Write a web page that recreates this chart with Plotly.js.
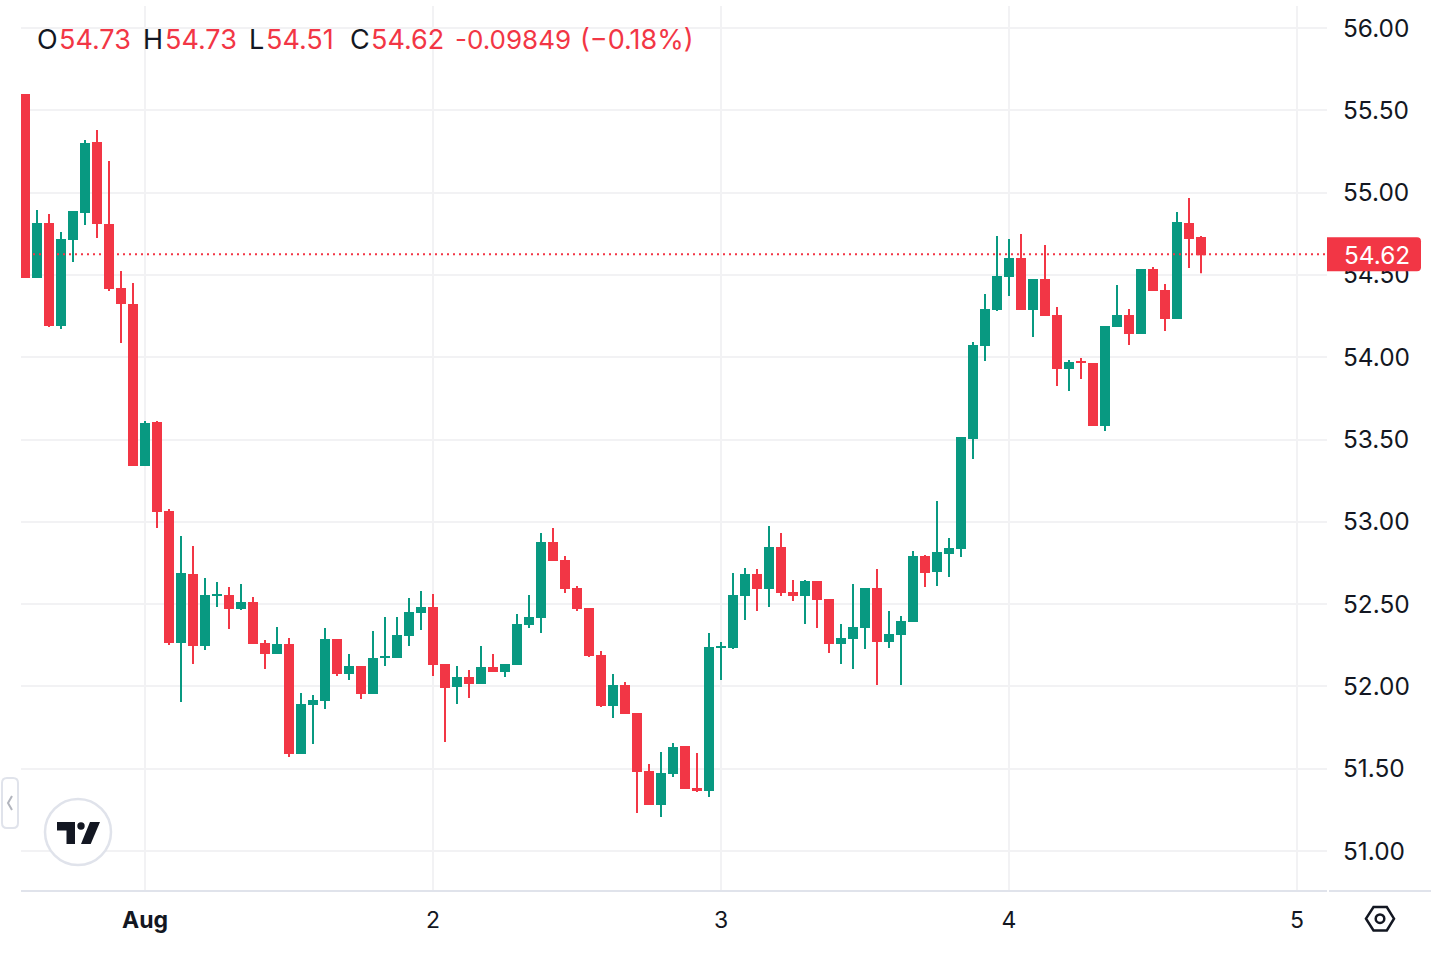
<!DOCTYPE html>
<html>
<head>
<meta charset="utf-8">
<script src="https://cdn.plot.ly/plotly-3.0.1.min.js"></script>
<style>
  html, body { margin: 0; padding: 0; background: #fff; }
  #chart { width: 1446px; height: 954px; }
</style>
</head>
<body>
<div id="chart"></div>
<script>
const openPrices = [
  55.599, 54.481, 54.815, 54.190, 54.712, 54.876, 55.307, 54.809, 54.420, 54.323,
  53.339, 53.606, 53.066, 52.264, 52.683, 52.245, 52.549, 52.555, 52.470, 52.513,
  52.264, 52.197, 52.258, 51.589, 51.887, 51.911, 52.288, 52.075, 52.124, 51.954,
  52.173, 52.173, 52.306, 52.446, 52.482, 52.136, 51.996, 52.057, 52.015, 52.118,
  52.088, 52.130, 52.373, 52.416, 52.877, 52.768, 52.598, 52.476, 52.191, 51.881,
  52.009, 51.838, 51.486, 51.280, 51.468, 51.638, 51.383, 51.365, 52.233, 52.233,
  52.549, 52.683, 52.592, 52.847, 52.574, 52.549, 52.640, 52.531, 52.258, 52.288,
  52.355, 52.598, 52.270, 52.312, 52.391, 52.792, 52.695, 52.804, 52.835, 53.503,
  54.068, 54.287, 54.487, 54.603, 54.287, 54.475, 54.256, 53.928, 53.977, 53.965,
  53.582, 54.183, 54.256, 54.141, 54.536, 54.408, 54.232, 54.815, 54.730
];
const highPrices = [
  55.599, 54.894, 54.870, 54.761, 54.888, 55.320, 55.380, 55.192, 54.524, 54.451,
  53.612, 53.612, 53.078, 52.914, 52.853, 52.659, 52.634, 52.604, 52.622, 52.543,
  52.282, 52.361, 52.294, 51.960, 51.948, 52.355, 52.288, 52.197, 52.124, 52.337,
  52.422, 52.422, 52.537, 52.580, 52.561, 52.136, 52.124, 52.100, 52.245, 52.197,
  52.136, 52.440, 52.555, 52.932, 52.962, 52.792, 52.610, 52.476, 52.215, 52.075,
  52.027, 51.838, 51.529, 51.602, 51.656, 51.638, 51.595, 52.324, 52.270, 52.689,
  52.719, 52.713, 52.975, 52.932, 52.646, 52.646, 52.640, 52.531, 52.379, 52.622,
  52.598, 52.713, 52.458, 52.428, 52.823, 52.798, 53.126, 52.902, 53.515, 54.092,
  54.384, 54.736, 54.718, 54.748, 54.475, 54.682, 54.305, 53.983, 53.995, 53.965,
  54.190, 54.439, 54.293, 54.536, 54.548, 54.445, 54.882, 54.967, 54.736
];
const lowPrices = [
  54.481, 54.481, 54.183, 54.171, 54.578, 54.803, 54.724, 54.402, 54.086, 53.339,
  53.339, 52.962, 52.252, 51.905, 52.136, 52.221, 52.482, 52.349, 52.464, 52.258,
  52.106, 52.197, 51.571, 51.589, 51.650, 51.863, 52.063, 52.039, 51.923, 51.954,
  52.124, 52.173, 52.245, 52.343, 52.063, 51.662, 51.893, 51.930, 52.015, 52.088,
  52.057, 52.130, 52.355, 52.324, 52.762, 52.567, 52.458, 52.179, 51.875, 51.808,
  51.832, 51.231, 51.280, 51.207, 51.450, 51.377, 51.358, 51.328, 52.039, 52.227,
  52.403, 52.458, 52.482, 52.549, 52.519, 52.379, 52.355, 52.203, 52.136, 52.106,
  52.227, 52.009, 52.233, 52.009, 52.391, 52.604, 52.610, 52.665, 52.786, 53.382,
  53.977, 54.281, 54.372, 54.287, 54.123, 54.250, 53.825, 53.795, 53.868, 53.582,
  53.552, 54.183, 54.074, 54.141, 54.402, 54.159, 54.232, 54.542, 54.510
];
const closePrices = [
  54.481, 54.815, 54.190, 54.718, 54.888, 55.301, 54.809, 54.414, 54.323, 53.339,
  53.600, 53.060, 52.264, 52.689, 52.245, 52.555, 52.561, 52.470, 52.513, 52.258,
  52.197, 52.258, 51.589, 51.893, 51.917, 52.288, 52.075, 52.124, 51.954, 52.173,
  52.185, 52.312, 52.452, 52.482, 52.130, 51.990, 52.057, 52.015, 52.118, 52.088,
  52.136, 52.379, 52.422, 52.877, 52.762, 52.592, 52.470, 52.185, 51.881, 52.009,
  51.832, 51.480, 51.280, 51.474, 51.632, 51.377, 51.365, 52.239, 52.245, 52.555,
  52.683, 52.592, 52.847, 52.567, 52.549, 52.640, 52.525, 52.258, 52.294, 52.361,
  52.598, 52.270, 52.318, 52.397, 52.792, 52.689, 52.817, 52.841, 53.515, 54.074,
  54.293, 54.493, 54.603, 54.287, 54.475, 54.250, 53.928, 53.971, 53.965, 53.582,
  54.190, 54.256, 54.141, 54.536, 54.402, 54.232, 54.821, 54.718, 54.620
];
const firstCandle = Date.UTC(2024, 6, 31, 14);
const xTickVals = ["2024-08-01", "2024-08-02", "2024-08-03", "2024-08-04", "2024-08-05"];
const xTickText = ["<b>Aug</b>", "2", "3", "4", "5"];
const yTickVals = [51, 51.5, 52, 52.5, 53, 53.5, 54, 54.5, 55, 55.5, 56];
const lastPrice = 54.62;
const legendLabels = ["O", "H", "L", "C"];
const legendValues = ["54.73", "54.73", "54.51", "54.62", "-0.09849", "(−0.18%)"];

const UP = "#089981", DOWN = "#F23645", INK = "#131722", GRID = "#F2F2F4", EDGE = "#E0E3EB";
const WIDTH = 1446, HEIGHT = 954;
const M = { l: 21, r: 119, t: 6, b: 63 };

// screen pixels to paper fractions, for the chrome round the plot
const px = (x) => (x - M.l) / (WIDTH - M.l - M.r);
const py = (y) => (HEIGHT - M.b - y) / (HEIGHT - M.t - M.b);
const poly = (pts) => "M" + pts.map((p) => px(p[0]) + "," + py(p[1])).join("L") + "Z";

const times = openPrices.map((_, i) => new Date(firstCandle + i * 3600000).toISOString());

// wicks are separate so they stay 2px while bodies have no outline
const wickTrace = (color, keep) => {
  const x = [], y = [];
  times.forEach((t, i) => {
    if (keep(i)) {
      x.push(t, t, null);
      y.push(highPrices[i], lowPrices[i], null);
    }
  });
  return { type: "scatter", mode: "lines", x, y, line: { color, width: 2 }, hoverinfo: "skip", connectgaps: false };
};
const isUp = (i) => closePrices[i] >= openPrices[i];

const series = [
  {
    type: "candlestick",
    x: times,
    open: openPrices,
    high: highPrices,
    low: lowPrices,
    close: closePrices,
    increasing: { line: { color: UP, width: 0 }, fillcolor: UP },
    decreasing: { line: { color: DOWN, width: 0 }, fillcolor: DOWN },
    whiskerwidth: 0,
  },
  wickTrace(UP, isUp),
  wickTrace(DOWN, (i) => !isUp(i)),
];

// header text, placed one piece at a time like the original legend
const legendNote = (text, left, color, size = 27) => ({
  xref: "paper", yref: "paper", x: px(left), y: py(39.6), xanchor: "left", yanchor: "middle",
  text, showarrow: false, borderpad: 0, font: { size, color },
});
const labelLefts = [36, 142, 248, 349];
const valueLefts = [58, 164, 265, 370, 454, 579];

const layout = {
  width: WIDTH,
  height: HEIGHT,
  margin: M,
  paper_bgcolor: "#fff",
  plot_bgcolor: "#fff",
  showlegend: false,
  boxgap: 1 / 6,
  boxgroupgap: 0,
  dragmode: false,
  font: { family: "Inter, sans-serif", color: INK, size: 24 },
  xaxis: {
    type: "date",
    range: ["2024-07-31 13:40", "2024-08-05 02:30"],
    rangeslider: { visible: false },
    tickmode: "array",
    tickvals: xTickVals,
    ticktext: xTickText,
    tickangle: 0,
    showgrid: true,
    gridcolor: GRID,
    gridwidth: 2,
    showline: false,
    ticks: "",
    ticklabelstandoff: 13,
    tickfont: { size: 23 },
  },
  yaxis: {
    side: "right",
    range: [50.757, 56.134],
    tickmode: "array",
    tickvals: yTickVals,
    tickformat: ".2f",
    showgrid: true,
    gridcolor: GRID,
    gridwidth: 2,
    zeroline: false,
    showline: false,
    ticks: "",
    ticklabelstandoff: 15,
    ticklabelshift: 0.5,
    tickfont: { size: 24.4 },
  },
  shapes: [
    // soft backing behind the header text, it mutes the grid there
    { type: "rect", xref: "paper", yref: "paper", x0: px(21), x1: px(707), y0: py(62), y1: py(27), layer: "between",
      fillcolor: "rgba(255,255,255,0.8)", line: { width: 0 } },
    // last price line and its tag, both 1px above the close like the original
    { type: "line", xref: "paper", x0: 0, x1: 1, yref: "y", ysizemode: "pixel", yanchor: lastPrice, y0: 1, y1: 1, layer: "above",
      line: { color: DOWN, width: 2, dash: "2px,4px" } },
    { type: "path", xref: "paper", yref: "y", xsizemode: "pixel", ysizemode: "pixel", xanchor: 1, yanchor: lastPrice,
      path: "M0,-16L90,-16Q94,-16 94,-12L94,14Q94,18 90,18L0,18Z",
      fillcolor: DOWN, line: { width: 0 }, layer: "above" },
    // bottom rule, with a small break at the price scale
    { type: "line", xref: "paper", yref: "paper", x0: px(21), x1: px(1327), y0: py(891), y1: py(891),
      line: { color: EDGE, width: 2 } },
    { type: "line", xref: "paper", yref: "paper", x0: px(1329), x1: px(1431), y0: py(891), y1: py(891),
      line: { color: EDGE, width: 2 } },
    // side handle
    { type: "path", xref: "paper", yref: "paper",
      path: `M${px(7)},${py(778)}L${px(13)},${py(778)}Q${px(18)},${py(778)} ${px(18)},${py(783)}L${px(18)},${py(823)}Q${px(18)},${py(828)} ${px(13)},${py(828)}L${px(7)},${py(828)}Q${px(2)},${py(828)} ${px(2)},${py(823)}L${px(2)},${py(783)}Q${px(2)},${py(778)} ${px(7)},${py(778)}Z`,
      fillcolor: "#fff", line: { color: EDGE, width: 2 } },
    { type: "path", xref: "paper", yref: "paper",
      path: `M${px(12)},${py(796)}L${px(8)},${py(803)}L${px(12)},${py(810)}`,
      line: { color: "#B2B5BE", width: 2 } },
    // logo badge
    { type: "circle", xref: "paper", yref: "paper", x0: px(45), x1: px(111), y0: py(865), y1: py(799),
      fillcolor: "#fff", line: { color: EDGE, width: 2.5 } },
    { type: "path", xref: "paper", yref: "paper",
      path: poly([[57, 822], [75, 822], [75, 844], [66.5, 844], [66.5, 830.5], [57, 830.5]]),
      fillcolor: INK, line: { width: 0 } },
    { type: "circle", xref: "paper", yref: "paper", x0: px(77.3), x1: px(84.7), y0: py(829.7), y1: py(822.3),
      fillcolor: INK, line: { width: 0 } },
    { type: "path", xref: "paper", yref: "paper",
      path: poly([[90, 822], [100, 822], [90.7, 844], [81, 844]]),
      fillcolor: INK, line: { width: 0 } },
    // settings icon
    { type: "path", xref: "paper", yref: "paper",
      path: poly([[1366, 918.7], [1373.5, 907], [1386.8, 907], [1394, 918.7], [1386.8, 930.5], [1373.5, 930.5]]),
      line: { color: INK, width: 2.5 } },
    { type: "circle", xref: "paper", yref: "paper", x0: px(1375.7), x1: px(1384.3), y0: py(923), y1: py(914.4),
      line: { color: INK, width: 2.5 } },
  ],
  annotations: [
    { xref: "paper", yref: "paper", x: px(1342), y: py(255), xanchor: "left", yanchor: "middle",
      text: lastPrice.toFixed(2), showarrow: false, font: { color: "#fff", size: 24.4 } },
    ...legendLabels.map((s, i) => legendNote(s, labelLefts[i], INK)),
    ...legendValues.map((s, i) => legendNote(s, valueLefts[i], DOWN, i === 4 ? 26 : 27)),
  ],
};

Plotly.newPlot("chart", series, layout, { responsive: false, displayModeBar: false, staticPlot: true });
</script>
</body>
</html>
